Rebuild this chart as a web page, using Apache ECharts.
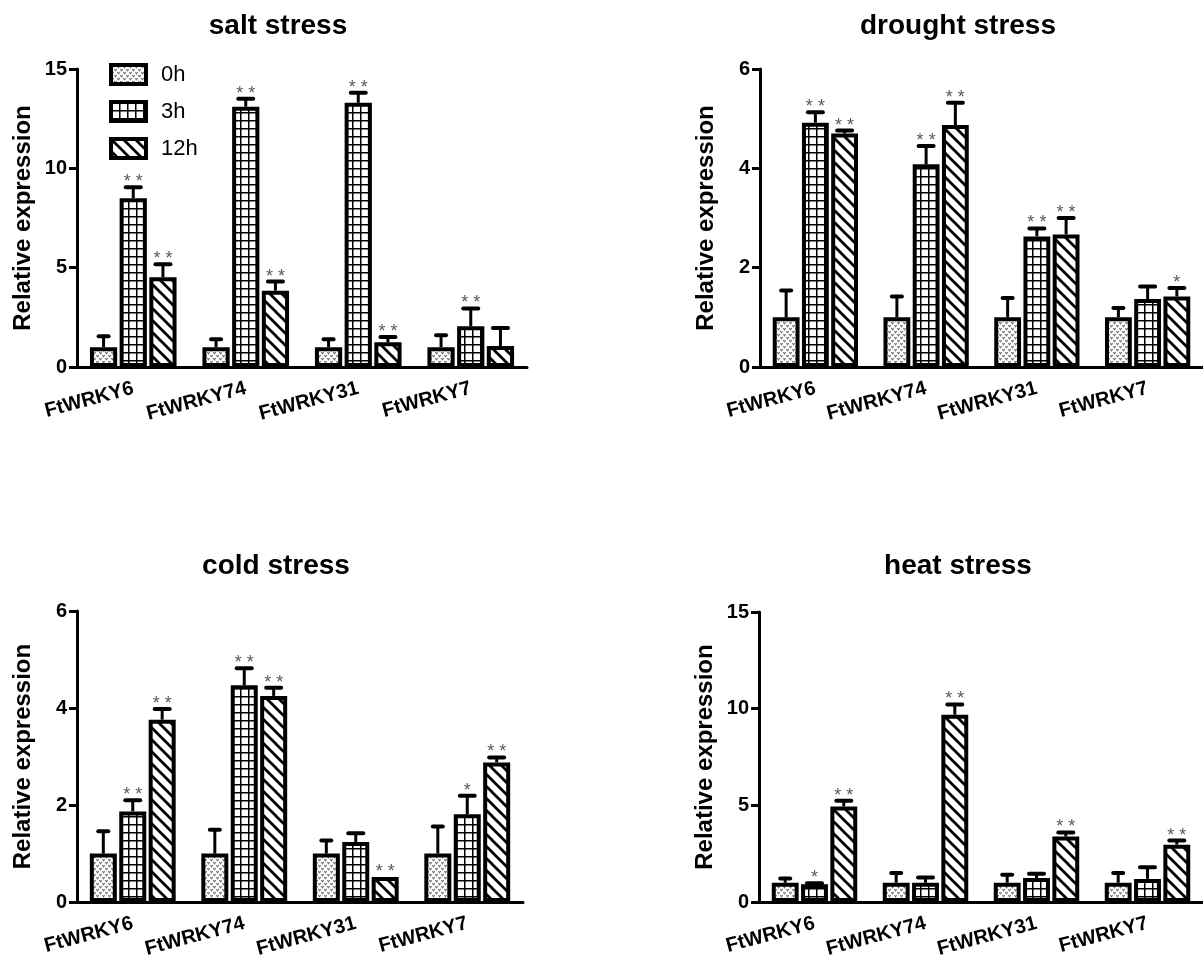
<!DOCTYPE html>
<html>
<head>
<meta charset="utf-8">
<script src="https://cdn.jsdelivr.net/npm/echarts@6/dist/echarts.min.js"></script>
<style>
html,body{margin:0;padding:0;background:#fff;}
#chart{width:1203px;height:960px;}
</style>
</head>
<body>
<div id="chart"></div>
<script>
// ---------------- DATA ----------------
const categories = ['FtWRKY6', 'FtWRKY74', 'FtWRKY31', 'FtWRKY7'];
const timePoints = ['0h', '3h', '12h'];

const salt_0h = [1.0, 1.0, 1.0, 1.0];
const salt_0h_err = [0.55, 0.40, 0.40, 0.60];
const salt_3h = [8.5, 13.1, 13.3, 2.05];
const salt_3h_err = [0.55, 0.40, 0.50, 0.90];
const salt_12h = [4.52, 3.84, 1.24, 1.06];
const salt_12h_err = [0.65, 0.46, 0.27, 0.90];
const salt_0h_sig = ['', '', '', ''];
const salt_3h_sig = ['**', '**', '**', '**'];
const salt_12h_sig = ['**', '**', '**', ''];

const drought_0h = [1.0, 1.0, 1.0, 1.0];
const drought_0h_err = [0.54, 0.42, 0.39, 0.19];
const drought_3h = [4.92, 4.08, 2.63, 1.37];
const drought_3h_err = [0.21, 0.37, 0.16, 0.25];
const drought_12h = [4.70, 4.87, 2.67, 1.42];
const drought_12h_err = [0.06, 0.45, 0.33, 0.17];
const drought_0h_sig = ['', '', '', ''];
const drought_3h_sig = ['**', '**', '**', ''];
const drought_12h_sig = ['**', '**', '**', '*'];

const cold_0h = [1.0, 1.0, 1.0, 1.0];
const cold_0h_err = [0.46, 0.49, 0.27, 0.56];
const cold_3h = [1.87, 4.47, 1.24, 1.81];
const cold_3h_err = [0.23, 0.35, 0.18, 0.38];
const cold_12h = [3.76, 4.25, 0.52, 2.88];
const cold_12h_err = [0.22, 0.17, 0.0, 0.10];
const cold_0h_sig = ['', '', '', ''];
const cold_3h_sig = ['**', '**', '', '*'];
const cold_12h_sig = ['**', '**', '**', '**'];

const heat_0h = [1.0, 1.0, 1.0, 1.0];
const heat_0h_err = [0.22, 0.50, 0.41, 0.50];
const heat_3h = [0.92, 1.0, 1.24, 1.20];
const heat_3h_err = [0.05, 0.27, 0.23, 0.60];
const heat_12h = [4.94, 9.69, 3.39, 2.97];
const heat_12h_err = [0.30, 0.53, 0.21, 0.21];
const heat_0h_sig = ['', '', '', ''];
const heat_3h_sig = ['*', '', '', ''];
const heat_12h_sig = ['**', '**', '**', '**'];

const panelTitles = ['salt stress', 'drought stress', 'cold stress', 'heat stress'];
const yMax = [15, 6, 6, 15];
const yInterval = [5, 2, 2, 5];

// ---------------- PATTERNS ----------------
function makeCanvas(w, h, draw) {
  const c = document.createElement('canvas');
  c.width = w; c.height = h;
  const ctx = c.getContext('2d');
  ctx.fillStyle = '#fff';
  ctx.fillRect(0, 0, w, h);
  draw(ctx);
  return c;
}
const dotsCanvas = makeCanvas(6, 6, ctx => {
  ctx.strokeStyle = '#6e6e6e';
  ctx.lineWidth = 1.1;
  const v = (x, y) => { ctx.beginPath(); ctx.moveTo(x, y); ctx.lineTo(x + 1.2, y + 1.8); ctx.lineTo(x + 2.4, y); ctx.stroke(); };
  v(0.3, 1); v(3.3, 4);
  v(3.3, -2);
});
const gridCanvas = makeCanvas(8, 8, ctx => {
  ctx.fillStyle = '#000';
  ctx.fillRect(0, 0, 8, 1.5);
  ctx.fillRect(0, 0, 1.5, 8);
});
const diagCanvas = makeCanvas(12, 12, ctx => {
  ctx.strokeStyle = '#000';
  ctx.lineWidth = 2.7;
  [-12, 0, 12].forEach(o => {
    ctx.beginPath(); ctx.moveTo(o - 1, -1); ctx.lineTo(o + 13, 13); ctx.stroke();
  });
});
const fills = [
  { image: dotsCanvas, repeat: 'repeat' },
  { image: gridCanvas, repeat: 'repeat' },
  { image: diagCanvas, repeat: 'repeat' }
];

const panels = [
  { means: [salt_0h, salt_3h, salt_12h], errs: [salt_0h_err, salt_3h_err, salt_12h_err], sigs: [salt_0h_sig, salt_3h_sig, salt_12h_sig] },
  { means: [drought_0h, drought_3h, drought_12h], errs: [drought_0h_err, drought_3h_err, drought_12h_err], sigs: [drought_0h_sig, drought_3h_sig, drought_12h_sig] },
  { means: [cold_0h, cold_3h, cold_12h], errs: [cold_0h_err, cold_3h_err, cold_12h_err], sigs: [cold_0h_sig, cold_3h_sig, cold_12h_sig] },
  { means: [heat_0h, heat_3h, heat_12h], errs: [heat_0h_err, heat_3h_err, heat_12h_err], sigs: [heat_0h_sig, heat_3h_sig, heat_12h_sig] }
];

// ---------------- LAYOUT ----------------
const FONT = '"Liberation Sans", Arial, sans-serif';
const gridBoxes = [
  { left: 77, top: 69, width: 450, height: 298 },
  { left: 760, top: 69, width: 444, height: 298 },
  { left: 77, top: 611, width: 446, height: 297 },
  { left: 759, top: 612, width: 444, height: 298 }
];
const titlePos = [[278, 26], [958, 26], [276, 566], [958, 566]];
const CAT_GAP = 0.23, BAR_GAP = 0.09;

const grids = [], xAxes = [], yAxes = [], series = [], graphics = [];
panels.forEach((p, pi) => {
  grids.push(Object.assign({}, gridBoxes[pi]));
  xAxes.push({
    type: 'category', gridIndex: pi, data: categories,
    axisLine: { lineStyle: { color: '#000', width: 3 } },
    axisTick: { alignWithLabel: true, length: 9, lineStyle: { color: '#000', width: 3 } },
    axisLabel: { rotate: 15, margin: 21, color: '#000', fontSize: 20, fontWeight: 'bold', fontFamily: FONT, interval: 0 }
  });
  yAxes.push({
    type: 'value', gridIndex: pi, min: 0, max: yMax[pi], interval: yInterval[pi],
    name: 'Relative expression', nameLocation: 'middle', nameGap: 42, nameRotate: 90,
    nameTextStyle: { color: '#000', fontSize: 24, fontWeight: 'bold', fontFamily: FONT },
    splitLine: { show: false },
    axisLine: { show: true, lineStyle: { color: '#000', width: 3 } },
    axisTick: { show: true, length: 8, lineStyle: { color: '#000', width: 3 } },
    axisLabel: { margin: 10, color: '#000', fontSize: 20, fontWeight: 'bold', fontFamily: FONT }
  });
  graphics.push({
    type: 'text', x: titlePos[pi][0], y: titlePos[pi][1],
    style: { text: panelTitles[pi], fill: '#000', font: 'bold 28px ' + FONT, align: 'center', verticalAlign: 'middle' }
  });
  p.means.forEach((m, k) => {
    series.push({
      type: 'bar', name: timePoints[k], xAxisIndex: pi, yAxisIndex: pi,
      data: m, barCategoryGap: (CAT_GAP * 100) + '%', barGap: (BAR_GAP * 100) + '%',
      itemStyle: { color: fills[k], borderColor: '#000', borderWidth: 4 },
      emphasis: { disabled: true }, z: 2
    });
  });
  p.means.forEach((m, k) => {
    const errs = p.errs[k], sigs = p.sigs[k];
    const capHalf = k === 0 ? 5 : 7.5;
    series.push({
      type: 'custom', name: timePoints[k] + '-err', xAxisIndex: pi, yAxisIndex: pi,
      data: categories.map((c, i) => [i, m[i], errs[i]]),
      encode: { x: 0, y: 1 }, z: 5, silent: true,
      renderItem: function (params, api) {
        const i = api.value(0), v = api.value(1), e = api.value(2);
        const base = api.coord([i, 0]);
        const top = api.coord([i, v]);
        const et = api.coord([i, v + e]);
        const band = api.size([1, 0])[0];
        const groupW = band * (1 - CAT_GAP);
        const w = groupW / (3 + 2 * BAR_GAP);
        const x = base[0] - groupW / 2 + w / 2 + k * w * (1 + BAR_GAP);
        const children = [];
        let capY = top[1];
        if (e > 0.001) {
          capY = et[1];
          children.push({ type: 'line', shape: { x1: x, y1: top[1], x2: x, y2: et[1] }, style: { stroke: '#000', lineWidth: 3 } });
          children.push({ type: 'line', shape: { x1: x - capHalf, y1: et[1], x2: x + capHalf, y2: et[1] }, style: { stroke: '#000', lineWidth: 4, lineCap: 'round' } });
        }
        const s = sigs[params.dataIndex];
        if (s) {
          children.push({ type: 'text', x: x, y: capY - 5,
            style: { text: s.split('').join(' '), fill: '#5a5a5a', font: '18px ' + FONT, align: 'center', verticalAlign: 'middle' } });
        }
        return { type: 'group', children: children };
      }
    });
  });
});

const chart = echarts.init(document.getElementById('chart'), null, { renderer: 'canvas' });
chart.setOption({
  backgroundColor: '#fff',
  animation: false,
  grid: grids,
  xAxis: xAxes,
  yAxis: yAxes,
  series: series,
  graphic: graphics,
  legend: {
    data: timePoints, orient: 'vertical', left: 109, top: 63,
    itemWidth: 35, itemHeight: 19, itemGap: 14, padding: 0,
    icon: 'rect',
    itemStyle: { borderColor: '#000', borderWidth: 4 },
    textStyle: { fontSize: 22, color: '#000', fontFamily: FONT, padding: [0, 0, 0, 10] },
    selectedMode: false
  }
});
</script>
</body>
</html>
